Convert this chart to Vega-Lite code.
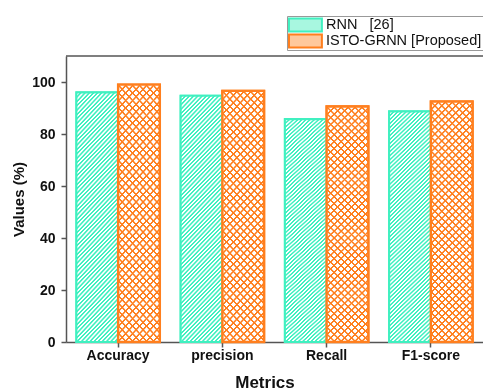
{
"$schema": "https://vega.github.io/schema/vega-lite/v6.json",
"width": 417,
"height": 286,
"autosize": {"type": "none"},
"padding": {"left": 66, "top": 56, "right": 0, "bottom": 48},
"background": "white",
"params": [
{"name": "stripeStops", "value": [
{"offset":0,"color":"#40f0c0"},{"offset":0.0035,"color":"#40f0c0"},{"offset":0.005,"color":"#fff"},{"offset":0.0085,"color":"#fff"},
{"offset":0.01,"color":"#40f0c0"},{"offset":0.0135,"color":"#40f0c0"},{"offset":0.015,"color":"#fff"},{"offset":0.0185,"color":"#fff"},
{"offset":0.02,"color":"#40f0c0"},{"offset":0.0235,"color":"#40f0c0"},{"offset":0.025,"color":"#fff"},{"offset":0.0285,"color":"#fff"},
{"offset":0.03,"color":"#40f0c0"},{"offset":0.0335,"color":"#40f0c0"},{"offset":0.035,"color":"#fff"},{"offset":0.0385,"color":"#fff"},
{"offset":0.04,"color":"#40f0c0"},{"offset":0.0435,"color":"#40f0c0"},{"offset":0.045,"color":"#fff"},{"offset":0.0485,"color":"#fff"},
{"offset":0.05,"color":"#40f0c0"},{"offset":0.0535,"color":"#40f0c0"},{"offset":0.055,"color":"#fff"},{"offset":0.0585,"color":"#fff"},
{"offset":0.06,"color":"#40f0c0"},{"offset":0.0635,"color":"#40f0c0"},{"offset":0.065,"color":"#fff"},{"offset":0.0685,"color":"#fff"},
{"offset":0.07,"color":"#40f0c0"},{"offset":0.0735,"color":"#40f0c0"},{"offset":0.075,"color":"#fff"},{"offset":0.0785,"color":"#fff"},
{"offset":0.08,"color":"#40f0c0"},{"offset":0.0835,"color":"#40f0c0"},{"offset":0.085,"color":"#fff"},{"offset":0.0885,"color":"#fff"},
{"offset":0.09,"color":"#40f0c0"},{"offset":0.0935,"color":"#40f0c0"},{"offset":0.095,"color":"#fff"},{"offset":0.0985,"color":"#fff"},
{"offset":0.1,"color":"#40f0c0"},{"offset":0.1035,"color":"#40f0c0"},{"offset":0.105,"color":"#fff"},{"offset":0.1085,"color":"#fff"},
{"offset":0.11,"color":"#40f0c0"},{"offset":0.1135,"color":"#40f0c0"},{"offset":0.115,"color":"#fff"},{"offset":0.1185,"color":"#fff"},
{"offset":0.12,"color":"#40f0c0"},{"offset":0.1235,"color":"#40f0c0"},{"offset":0.125,"color":"#fff"},{"offset":0.1285,"color":"#fff"},
{"offset":0.13,"color":"#40f0c0"},{"offset":0.1335,"color":"#40f0c0"},{"offset":0.135,"color":"#fff"},{"offset":0.1385,"color":"#fff"},
{"offset":0.14,"color":"#40f0c0"},{"offset":0.1435,"color":"#40f0c0"},{"offset":0.145,"color":"#fff"},{"offset":0.1485,"color":"#fff"},
{"offset":0.15,"color":"#40f0c0"},{"offset":0.1535,"color":"#40f0c0"},{"offset":0.155,"color":"#fff"},{"offset":0.1585,"color":"#fff"},
{"offset":0.16,"color":"#40f0c0"},{"offset":0.1635,"color":"#40f0c0"},{"offset":0.165,"color":"#fff"},{"offset":0.1685,"color":"#fff"},
{"offset":0.17,"color":"#40f0c0"},{"offset":0.1735,"color":"#40f0c0"},{"offset":0.175,"color":"#fff"},{"offset":0.1785,"color":"#fff"},
{"offset":0.18,"color":"#40f0c0"},{"offset":0.1835,"color":"#40f0c0"},{"offset":0.185,"color":"#fff"},{"offset":0.1885,"color":"#fff"},
{"offset":0.19,"color":"#40f0c0"},{"offset":0.1935,"color":"#40f0c0"},{"offset":0.195,"color":"#fff"},{"offset":0.1985,"color":"#fff"},
{"offset":0.2,"color":"#40f0c0"},{"offset":0.2035,"color":"#40f0c0"},{"offset":0.205,"color":"#fff"},{"offset":0.2085,"color":"#fff"},
{"offset":0.21,"color":"#40f0c0"},{"offset":0.2135,"color":"#40f0c0"},{"offset":0.215,"color":"#fff"},{"offset":0.2185,"color":"#fff"},
{"offset":0.22,"color":"#40f0c0"},{"offset":0.2235,"color":"#40f0c0"},{"offset":0.225,"color":"#fff"},{"offset":0.2285,"color":"#fff"},
{"offset":0.23,"color":"#40f0c0"},{"offset":0.2335,"color":"#40f0c0"},{"offset":0.235,"color":"#fff"},{"offset":0.2385,"color":"#fff"},
{"offset":0.24,"color":"#40f0c0"},{"offset":0.2435,"color":"#40f0c0"},{"offset":0.245,"color":"#fff"},{"offset":0.2485,"color":"#fff"},
{"offset":0.25,"color":"#40f0c0"},{"offset":0.2535,"color":"#40f0c0"},{"offset":0.255,"color":"#fff"},{"offset":0.2585,"color":"#fff"},
{"offset":0.26,"color":"#40f0c0"},{"offset":0.2635,"color":"#40f0c0"},{"offset":0.265,"color":"#fff"},{"offset":0.2685,"color":"#fff"},
{"offset":0.27,"color":"#40f0c0"},{"offset":0.2735,"color":"#40f0c0"},{"offset":0.275,"color":"#fff"},{"offset":0.2785,"color":"#fff"},
{"offset":0.28,"color":"#40f0c0"},{"offset":0.2835,"color":"#40f0c0"},{"offset":0.285,"color":"#fff"},{"offset":0.2885,"color":"#fff"},
{"offset":0.29,"color":"#40f0c0"},{"offset":0.2935,"color":"#40f0c0"},{"offset":0.295,"color":"#fff"},{"offset":0.2985,"color":"#fff"},
{"offset":0.3,"color":"#40f0c0"},{"offset":0.3035,"color":"#40f0c0"},{"offset":0.305,"color":"#fff"},{"offset":0.3085,"color":"#fff"},
{"offset":0.31,"color":"#40f0c0"},{"offset":0.3135,"color":"#40f0c0"},{"offset":0.315,"color":"#fff"},{"offset":0.3185,"color":"#fff"},
{"offset":0.32,"color":"#40f0c0"},{"offset":0.3235,"color":"#40f0c0"},{"offset":0.325,"color":"#fff"},{"offset":0.3285,"color":"#fff"},
{"offset":0.33,"color":"#40f0c0"},{"offset":0.3335,"color":"#40f0c0"},{"offset":0.335,"color":"#fff"},{"offset":0.3385,"color":"#fff"},
{"offset":0.34,"color":"#40f0c0"},{"offset":0.3435,"color":"#40f0c0"},{"offset":0.345,"color":"#fff"},{"offset":0.3485,"color":"#fff"},
{"offset":0.35,"color":"#40f0c0"},{"offset":0.3535,"color":"#40f0c0"},{"offset":0.355,"color":"#fff"},{"offset":0.3585,"color":"#fff"},
{"offset":0.36,"color":"#40f0c0"},{"offset":0.3635,"color":"#40f0c0"},{"offset":0.365,"color":"#fff"},{"offset":0.3685,"color":"#fff"},
{"offset":0.37,"color":"#40f0c0"},{"offset":0.3735,"color":"#40f0c0"},{"offset":0.375,"color":"#fff"},{"offset":0.3785,"color":"#fff"},
{"offset":0.38,"color":"#40f0c0"},{"offset":0.3835,"color":"#40f0c0"},{"offset":0.385,"color":"#fff"},{"offset":0.3885,"color":"#fff"},
{"offset":0.39,"color":"#40f0c0"},{"offset":0.3935,"color":"#40f0c0"},{"offset":0.395,"color":"#fff"},{"offset":0.3985,"color":"#fff"},
{"offset":0.4,"color":"#40f0c0"},{"offset":0.4035,"color":"#40f0c0"},{"offset":0.405,"color":"#fff"},{"offset":0.4085,"color":"#fff"},
{"offset":0.41,"color":"#40f0c0"},{"offset":0.4135,"color":"#40f0c0"},{"offset":0.415,"color":"#fff"},{"offset":0.4185,"color":"#fff"},
{"offset":0.42,"color":"#40f0c0"},{"offset":0.4235,"color":"#40f0c0"},{"offset":0.425,"color":"#fff"},{"offset":0.4285,"color":"#fff"},
{"offset":0.43,"color":"#40f0c0"},{"offset":0.4335,"color":"#40f0c0"},{"offset":0.435,"color":"#fff"},{"offset":0.4385,"color":"#fff"},
{"offset":0.44,"color":"#40f0c0"},{"offset":0.4435,"color":"#40f0c0"},{"offset":0.445,"color":"#fff"},{"offset":0.4485,"color":"#fff"},
{"offset":0.45,"color":"#40f0c0"},{"offset":0.4535,"color":"#40f0c0"},{"offset":0.455,"color":"#fff"},{"offset":0.4585,"color":"#fff"},
{"offset":0.46,"color":"#40f0c0"},{"offset":0.4635,"color":"#40f0c0"},{"offset":0.465,"color":"#fff"},{"offset":0.4685,"color":"#fff"},
{"offset":0.47,"color":"#40f0c0"},{"offset":0.4735,"color":"#40f0c0"},{"offset":0.475,"color":"#fff"},{"offset":0.4785,"color":"#fff"},
{"offset":0.48,"color":"#40f0c0"},{"offset":0.4835,"color":"#40f0c0"},{"offset":0.485,"color":"#fff"},{"offset":0.4885,"color":"#fff"},
{"offset":0.49,"color":"#40f0c0"},{"offset":0.4935,"color":"#40f0c0"},{"offset":0.495,"color":"#fff"},{"offset":0.4985,"color":"#fff"},
{"offset":0.5,"color":"#40f0c0"},{"offset":0.5035,"color":"#40f0c0"},{"offset":0.505,"color":"#fff"},{"offset":0.5085,"color":"#fff"},
{"offset":0.51,"color":"#40f0c0"},{"offset":0.5135,"color":"#40f0c0"},{"offset":0.515,"color":"#fff"},{"offset":0.5185,"color":"#fff"},
{"offset":0.52,"color":"#40f0c0"},{"offset":0.5235,"color":"#40f0c0"},{"offset":0.525,"color":"#fff"},{"offset":0.5285,"color":"#fff"},
{"offset":0.53,"color":"#40f0c0"},{"offset":0.5335,"color":"#40f0c0"},{"offset":0.535,"color":"#fff"},{"offset":0.5385,"color":"#fff"},
{"offset":0.54,"color":"#40f0c0"},{"offset":0.5435,"color":"#40f0c0"},{"offset":0.545,"color":"#fff"},{"offset":0.5485,"color":"#fff"},
{"offset":0.55,"color":"#40f0c0"},{"offset":0.5535,"color":"#40f0c0"},{"offset":0.555,"color":"#fff"},{"offset":0.5585,"color":"#fff"},
{"offset":0.56,"color":"#40f0c0"},{"offset":0.5635,"color":"#40f0c0"},{"offset":0.565,"color":"#fff"},{"offset":0.5685,"color":"#fff"},
{"offset":0.57,"color":"#40f0c0"},{"offset":0.5735,"color":"#40f0c0"},{"offset":0.575,"color":"#fff"},{"offset":0.5785,"color":"#fff"},
{"offset":0.58,"color":"#40f0c0"},{"offset":0.5835,"color":"#40f0c0"},{"offset":0.585,"color":"#fff"},{"offset":0.5885,"color":"#fff"},
{"offset":0.59,"color":"#40f0c0"},{"offset":0.5935,"color":"#40f0c0"},{"offset":0.595,"color":"#fff"},{"offset":0.5985,"color":"#fff"},
{"offset":0.6,"color":"#40f0c0"},{"offset":0.6035,"color":"#40f0c0"},{"offset":0.605,"color":"#fff"},{"offset":0.6085,"color":"#fff"},
{"offset":0.61,"color":"#40f0c0"},{"offset":0.6135,"color":"#40f0c0"},{"offset":0.615,"color":"#fff"},{"offset":0.6185,"color":"#fff"},
{"offset":0.62,"color":"#40f0c0"},{"offset":0.6235,"color":"#40f0c0"},{"offset":0.625,"color":"#fff"},{"offset":0.6285,"color":"#fff"},
{"offset":0.63,"color":"#40f0c0"},{"offset":0.6335,"color":"#40f0c0"},{"offset":0.635,"color":"#fff"},{"offset":0.6385,"color":"#fff"},
{"offset":0.64,"color":"#40f0c0"},{"offset":0.6435,"color":"#40f0c0"},{"offset":0.645,"color":"#fff"},{"offset":0.6485,"color":"#fff"},
{"offset":0.65,"color":"#40f0c0"},{"offset":0.6535,"color":"#40f0c0"},{"offset":0.655,"color":"#fff"},{"offset":0.6585,"color":"#fff"},
{"offset":0.66,"color":"#40f0c0"},{"offset":0.6635,"color":"#40f0c0"},{"offset":0.665,"color":"#fff"},{"offset":0.6685,"color":"#fff"},
{"offset":0.67,"color":"#40f0c0"},{"offset":0.6735,"color":"#40f0c0"},{"offset":0.675,"color":"#fff"},{"offset":0.6785,"color":"#fff"},
{"offset":0.68,"color":"#40f0c0"},{"offset":0.6835,"color":"#40f0c0"},{"offset":0.685,"color":"#fff"},{"offset":0.6885,"color":"#fff"}
]},
{"name": "hatchStops", "value": [
{"offset":0,"color":"#fff"},{"offset":0.002,"color":"#ff7f1e"},{"offset":0.006,"color":"#ff7f1e"},{"offset":0.008,"color":"#fff"},
{"offset":0.02,"color":"#fff"},{"offset":0.022,"color":"#ff7f1e"},{"offset":0.026,"color":"#ff7f1e"},{"offset":0.028,"color":"#fff"},
{"offset":0.04,"color":"#fff"},{"offset":0.042,"color":"#ff7f1e"},{"offset":0.046,"color":"#ff7f1e"},{"offset":0.048,"color":"#fff"},
{"offset":0.06,"color":"#fff"},{"offset":0.062,"color":"#ff7f1e"},{"offset":0.066,"color":"#ff7f1e"},{"offset":0.068,"color":"#fff"},
{"offset":0.08,"color":"#fff"},{"offset":0.082,"color":"#ff7f1e"},{"offset":0.086,"color":"#ff7f1e"},{"offset":0.088,"color":"#fff"},
{"offset":0.1,"color":"#fff"},{"offset":0.102,"color":"#ff7f1e"},{"offset":0.106,"color":"#ff7f1e"},{"offset":0.108,"color":"#fff"},
{"offset":0.12,"color":"#fff"},{"offset":0.122,"color":"#ff7f1e"},{"offset":0.126,"color":"#ff7f1e"},{"offset":0.128,"color":"#fff"},
{"offset":0.14,"color":"#fff"},{"offset":0.142,"color":"#ff7f1e"},{"offset":0.146,"color":"#ff7f1e"},{"offset":0.148,"color":"#fff"},
{"offset":0.16,"color":"#fff"},{"offset":0.162,"color":"#ff7f1e"},{"offset":0.166,"color":"#ff7f1e"},{"offset":0.168,"color":"#fff"},
{"offset":0.18,"color":"#fff"},{"offset":0.182,"color":"#ff7f1e"},{"offset":0.186,"color":"#ff7f1e"},{"offset":0.188,"color":"#fff"},
{"offset":0.2,"color":"#fff"},{"offset":0.202,"color":"#ff7f1e"},{"offset":0.206,"color":"#ff7f1e"},{"offset":0.208,"color":"#fff"},
{"offset":0.22,"color":"#fff"},{"offset":0.222,"color":"#ff7f1e"},{"offset":0.226,"color":"#ff7f1e"},{"offset":0.228,"color":"#fff"},
{"offset":0.24,"color":"#fff"},{"offset":0.242,"color":"#ff7f1e"},{"offset":0.246,"color":"#ff7f1e"},{"offset":0.248,"color":"#fff"},
{"offset":0.26,"color":"#fff"},{"offset":0.262,"color":"#ff7f1e"},{"offset":0.266,"color":"#ff7f1e"},{"offset":0.268,"color":"#fff"},
{"offset":0.28,"color":"#fff"},{"offset":0.282,"color":"#ff7f1e"},{"offset":0.286,"color":"#ff7f1e"},{"offset":0.288,"color":"#fff"},
{"offset":0.3,"color":"#fff"},{"offset":0.302,"color":"#ff7f1e"},{"offset":0.306,"color":"#ff7f1e"},{"offset":0.308,"color":"#fff"},
{"offset":0.32,"color":"#fff"},{"offset":0.322,"color":"#ff7f1e"},{"offset":0.326,"color":"#ff7f1e"},{"offset":0.328,"color":"#fff"},
{"offset":0.34,"color":"#fff"},{"offset":0.342,"color":"#ff7f1e"},{"offset":0.346,"color":"#ff7f1e"},{"offset":0.348,"color":"#fff"},
{"offset":0.36,"color":"#fff"},{"offset":0.362,"color":"#ff7f1e"},{"offset":0.366,"color":"#ff7f1e"},{"offset":0.368,"color":"#fff"},
{"offset":0.38,"color":"#fff"},{"offset":0.382,"color":"#ff7f1e"},{"offset":0.386,"color":"#ff7f1e"},{"offset":0.388,"color":"#fff"},
{"offset":0.4,"color":"#fff"},{"offset":0.402,"color":"#ff7f1e"},{"offset":0.406,"color":"#ff7f1e"},{"offset":0.408,"color":"#fff"},
{"offset":0.42,"color":"#fff"},{"offset":0.422,"color":"#ff7f1e"},{"offset":0.426,"color":"#ff7f1e"},{"offset":0.428,"color":"#fff"},
{"offset":0.44,"color":"#fff"},{"offset":0.442,"color":"#ff7f1e"},{"offset":0.446,"color":"#ff7f1e"},{"offset":0.448,"color":"#fff"},
{"offset":0.46,"color":"#fff"},{"offset":0.462,"color":"#ff7f1e"},{"offset":0.466,"color":"#ff7f1e"},{"offset":0.468,"color":"#fff"},
{"offset":0.48,"color":"#fff"},{"offset":0.482,"color":"#ff7f1e"},{"offset":0.486,"color":"#ff7f1e"},{"offset":0.488,"color":"#fff"},
{"offset":0.5,"color":"#fff"},{"offset":0.502,"color":"#ff7f1e"},{"offset":0.506,"color":"#ff7f1e"},{"offset":0.508,"color":"#fff"},
{"offset":0.52,"color":"#fff"},{"offset":0.522,"color":"#ff7f1e"},{"offset":0.526,"color":"#ff7f1e"},{"offset":0.528,"color":"#fff"},
{"offset":0.54,"color":"#fff"},{"offset":0.542,"color":"#ff7f1e"},{"offset":0.546,"color":"#ff7f1e"},{"offset":0.548,"color":"#fff"},
{"offset":0.56,"color":"#fff"},{"offset":0.562,"color":"#ff7f1e"},{"offset":0.566,"color":"#ff7f1e"},{"offset":0.568,"color":"#fff"},
{"offset":0.58,"color":"#fff"},{"offset":0.582,"color":"#ff7f1e"},{"offset":0.586,"color":"#ff7f1e"},{"offset":0.588,"color":"#fff"},
{"offset":0.6,"color":"#fff"},{"offset":0.602,"color":"#ff7f1e"},{"offset":0.606,"color":"#ff7f1e"},{"offset":0.608,"color":"#fff"},
{"offset":0.62,"color":"#fff"},{"offset":0.622,"color":"#ff7f1e"},{"offset":0.626,"color":"#ff7f1e"},{"offset":0.628,"color":"#fff"},
{"offset":0.64,"color":"#fff"},{"offset":0.642,"color":"#ff7f1e"},{"offset":0.646,"color":"#ff7f1e"},{"offset":0.648,"color":"#fff"},
{"offset":0.66,"color":"#fff"},{"offset":0.662,"color":"#ff7f1e"},{"offset":0.666,"color":"#ff7f1e"},{"offset":0.668,"color":"#fff"},
{"offset":0.68,"color":"#fff"},{"offset":0.682,"color":"#ff7f1e"},{"offset":0.686,"color":"#ff7f1e"},{"offset":0.688,"color":"#fff"},
{"offset":0.7,"color":"#fff"},{"offset":0.702,"color":"#ff7f1e"},{"offset":0.706,"color":"#ff7f1e"},{"offset":0.708,"color":"#fff"},
{"offset":0.72,"color":"#fff"},{"offset":0.722,"color":"#ff7f1e"},{"offset":0.726,"color":"#ff7f1e"},{"offset":0.728,"color":"#fff"},
{"offset":0.74,"color":"#fff"},{"offset":0.742,"color":"#ff7f1e"},{"offset":0.746,"color":"#ff7f1e"},{"offset":0.748,"color":"#fff"},
{"offset":0.76,"color":"#fff"},{"offset":0.762,"color":"#ff7f1e"},{"offset":0.766,"color":"#ff7f1e"},{"offset":0.768,"color":"#fff"},
{"offset":0.78,"color":"#fff"},{"offset":0.782,"color":"#ff7f1e"},{"offset":0.786,"color":"#ff7f1e"},{"offset":0.788,"color":"#fff"},
{"offset":0.8,"color":"#fff"},{"offset":0.802,"color":"#ff7f1e"},{"offset":0.806,"color":"#ff7f1e"},{"offset":0.808,"color":"#fff"}
]}
],
"config": {
  "font": "Liberation Sans",
  "view": {"stroke": null},
  "axis": {
    "domainColor": "#555", "domainWidth": 1.5,
    "tickColor": "#555", "tickWidth": 1.5,
    "labelColor": "#111", "labelFontSize": 14, "labelFontWeight": "bold",
    "titleColor": "#111", "titleFontWeight": "bold",
    "grid": false
  },
  "legend": {
    "labelFont": "Liberation Sans", "labelColor": "#111",
    "orient": "none", "legendX": 221, "legendY": -40,
    "direction": "vertical",
    "symbolType": "M-1,-0.93H3.7V0.93H-1Z", "symbolSize": 196, "symbolStrokeWidth": 2,
    "clipHeight": 16, "rowPadding": 0,
    "labelFontSize": 14.5, "labelOffset": 22,
    "padding": 1, "strokeColor": "#999", "fillColor": "#fff"
  }
},
"datasets": {
  "scores": [
    {"metric": "Accuracy", "model": "RNN [26]", "value": 96.0},
    {"metric": "Accuracy", "model": "ISTO-GRNN [Proposed]", "value": 99.0},
    {"metric": "precision", "model": "RNN [26]", "value": 94.7},
    {"metric": "precision", "model": "ISTO-GRNN [Proposed]", "value": 96.6},
    {"metric": "Recall", "model": "RNN [26]", "value": 85.7},
    {"metric": "Recall", "model": "ISTO-GRNN [Proposed]", "value": 90.6},
    {"metric": "F1-score", "model": "RNN [26]", "value": 88.7},
    {"metric": "F1-score", "model": "ISTO-GRNN [Proposed]", "value": 92.5}
  ]
},
"layer": [
  {
    "data": {"name": "scores"},
    "encoding": {
      "x": {
        "field": "metric", "type": "nominal",
        "scale": {"domain": ["Accuracy", "precision", "Recall", "F1-score"], "paddingInner": 0.2, "paddingOuter": 0.1},
        "axis": {"title": "Metrics", "labelAngle": 0, "tickSize": 5, "labelPadding": 1, "titleFontSize": 17, "titlePadding": 12, "titleX": 198.5}
      },
      "xOffset": {"field": "model", "type": "nominal", "scale": {"domain": ["RNN [26]", "ISTO-GRNN [Proposed]"]}},
      "y": {
        "field": "value", "type": "quantitative",
        "scale": {"domain": [0, 110], "nice": false},
        "axis": {
          "title": "Values (%)",
          "values": [0, 10, 20, 30, 40, 50, 60, 70, 80, 90, 100],
          "labelExpr": "datum.value % 20 === 0 ? datum.label : ''",
          "tickSize": {"condition": {"test": "datum.value % 20 === 0", "value": 5}, "value": 3},
          "labelPadding": 6, "titleFontSize": 15, "titlePadding": 5
        }
      }
    },
    "layer": [
      {
        "mark": {"type": "bar", "strokeWidth": 2.2},
        "encoding": {
          "fill": {
            "field": "model", "type": "nominal",
            "scale": {"domain": ["RNN [26]", "ISTO-GRNN [Proposed]"], "range": ["#a8f7e0", "#ffc89c"]},
            "legend": {"title": null, "labelExpr": "datum.label === 'RNN [26]' ? 'RNN\u00a0\u00a0 [26]' : datum.label"}
          },
          "stroke": {
            "field": "model", "type": "nominal",
            "scale": {"domain": ["RNN [26]", "ISTO-GRNN [Proposed]"], "range": ["#40f0c0", "#ff7f1e"]},
            "legend": {"title": null, "labelExpr": "datum.label === 'RNN [26]' ? 'RNN\u00a0\u00a0 [26]' : datum.label"}
          }
        }
      },
      {
        "transform": [{"filter": "datum.model === 'RNN [26]'"}],
        "mark": {"type": "bar", "stroke": "#40f0c0", "strokeWidth": 2, "fill": {"expr": "{gradient: 'linear', x1: 0, y1: 0, x2: 0.2975, y2: 1.7, stops: stripeStops}"}}
      },
      {
        "transform": [{"filter": "datum.model !== 'RNN [26]'"}],
        "mark": {"type": "bar", "fill": {"expr": "{gradient: 'linear', x1: 0, y1: 0, x2: 0.248, y2: 1.417, stops: hatchStops}"}}
      },
      {
        "transform": [{"filter": "datum.model !== 'RNN [26]'"}],
        "mark": {"type": "bar", "blend": "darken", "fill": {"expr": "{gradient: 'linear', x1: 0, y1: 1, x2: 0.248, y2: -0.417, stops: hatchStops}"}}
      },
      {
        "transform": [{"filter": "datum.model !== 'RNN [26]'"}],
        "mark": {"type": "bar", "fill": "transparent", "stroke": "#ff7f1e", "strokeWidth": 2.4}
      }
    ]
  },
  {
    "data": {"values": [{"value": 110}]},
    "mark": {"type": "rule", "color": "#555", "strokeWidth": 1.5},
    "encoding": {"y": {"field": "value", "type": "quantitative", "title": "Values (%)"}}
  }
]
}
